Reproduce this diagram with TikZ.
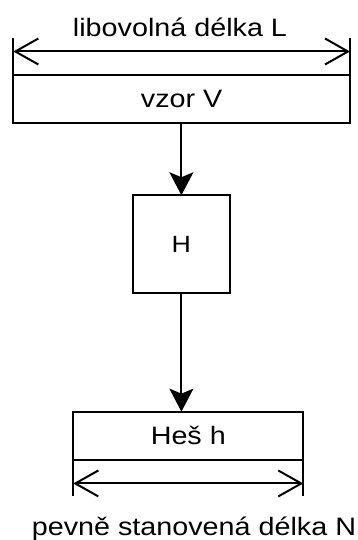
\documentclass[tikz,border=0pt]{standalone}
\usepackage{fontspec}
\setmainfont[FakeStretch=1.14]{Liberation Sans}
\usetikzlibrary{arrows.meta}
\begin{document}
\begin{tikzpicture}[x=1pt,y=-1pt,
  line width=2pt,
  box/.style={draw=black, line width=2pt, rectangle, outer sep=0pt, inner sep=0pt,
    font=\fontsize{25.2}{30}\selectfont, text height=18pt, text depth=0pt},
  lbl/.style={font=\fontsize{25.2}{30}\selectfont, inner sep=0pt, anchor=base},
  flow/.style={draw=black, line width=2pt, -{Stealth[length=23pt,width=24pt,inset=5pt]}},
  dimline/.style={draw=black, line width=2pt, {Straight Barb[length=23pt,width=26pt]}-{Straight Barb[length=23pt,width=26pt]}},
  extline/.style={draw=black, line width=2pt}]
\useasboundingbox (0,0) rectangle (357,540);

% boxes
\node[box, minimum width=336.7pt, minimum height=48pt] (vzor) at (181.65,99) {vzor V};
\node[box, minimum width=97.5pt, minimum height=97.5pt, font=\fontsize{23.5}{28}\selectfont, text height=16.8pt] (H) at (181.4,244) {H};
\node[box, minimum width=230pt, minimum height=48.3pt] (hes) at (188.3,435.8) {Heš h};

% flow arrows
\draw[flow] (H.north |- vzor.south) -- (H.north);
\draw[flow] (H.south) -- (H.south |- hes.north);

% top dimension
\coordinate (etl) at ([yshift=37pt]vzor.north west);
\coordinate (etr) at ([yshift=37pt]vzor.north east);
\coordinate (dtl) at ([yshift=23.5pt]vzor.north west);
\coordinate (dtr) at ([yshift=23.5pt]vzor.north east);
\draw[extline] (vzor.north west) -- (etl);
\draw[extline] (vzor.north east) -- (etr);
\draw[dimline] (dtl) -- (dtr);
\node[lbl] (topl) at (180,36.7) {libovolná délka L};

% bottom dimension
\coordinate (ebl) at ([yshift=-36.5pt]hes.south west);
\coordinate (ebr) at ([yshift=-36.5pt]hes.south east);
\coordinate (dbl) at ([yshift=-23.5pt]hes.south west);
\coordinate (dbr) at ([yshift=-23.5pt]hes.south east);
\draw[extline] (hes.south west) -- (ebl);
\draw[extline] (hes.south east) -- (ebr);
\draw[dimline] (dbl) -- (dbr);
\node[lbl] (botl) at (194,535) {pevně stanovená délka N};
\end{tikzpicture}
\end{document}
